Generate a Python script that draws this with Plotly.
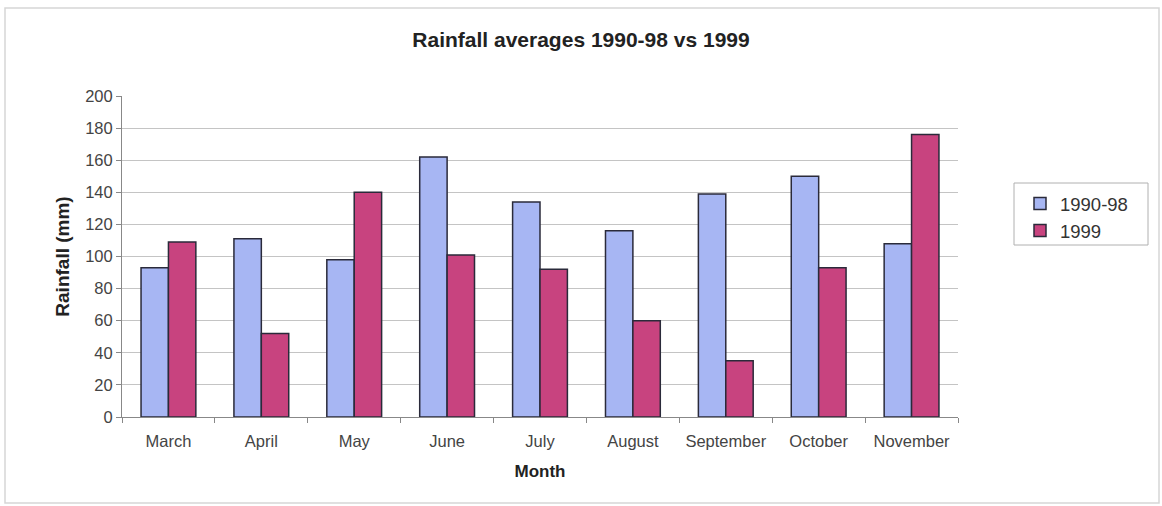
import plotly.graph_objects as go

# Monthly rainfall (mm): long-term average vs a single year
months = ["March", "April", "May", "June", "July", "August",
          "September", "October", "November"]
avg_1990_98 = [93, 111, 98, 162, 134, 116, 139, 150, 108]
year_1999 = [109, 52, 140, 101, 92, 60, 35, 93, 176]
y_ticks = list(range(0, 201, 20))

FONT = "Liberation Sans, Arial, sans-serif"
BLUE = "#a7b6f3"
PINK = "#c8437f"
EDGE = "#2a2a3a"

fig = go.Figure()
fig.add_trace(go.Bar(x=months, y=avg_1990_98, name="1990-98",
                     marker=dict(color=BLUE, line=dict(color=EDGE, width=1.5))))
fig.add_trace(go.Bar(x=months, y=year_1999, name="1999",
                     marker=dict(color=PINK, line=dict(color=EDGE, width=1.5))))

W, H = 1162, 506
L, R, T, B = 122, 204, 96, 89
pw, ph = W - L - R, H - T - B


def px_to_paper(px, py):
    return (px - L) / pw, (H - B - py) / ph


# light frame around the whole chart
fx0, fy0 = px_to_paper(5, 503)
fx1, fy1 = px_to_paper(1159, 8)
# legend box
lx0, ly0 = px_to_paper(1014, 245)
lx1, ly1 = px_to_paper(1148, 183)

fig.update_layout(
    width=W, height=H,
    margin=dict(l=L, r=R, t=T, b=B),
    paper_bgcolor="white", plot_bgcolor="white",
    barmode="group", bargap=0.41, bargroupgap=0,
    font=dict(family=FONT, color="#444444", size=16),
    title=dict(text="<b>Rainfall averages 1990-98 vs 1999</b>",
               x=0.5, xref="container", xanchor="center",
               y=1 - 40 / H, yanchor="middle",
               font=dict(family=FONT, size=21, color="#222222")),
    xaxis=dict(
        type="category", tickson="boundaries", ticks="outside", ticklen=5,
        tickcolor="#888888", showline=True, linecolor="#888888", linewidth=1,
        showgrid=False, tickfont=dict(size=16.5, color="#444444"),
        ticklabelstandoff=9,
        title=dict(text="<b>Month</b>", standoff=16,
                   font=dict(family=FONT, size=17, color="#222222")),
    ),
    yaxis=dict(
        range=[0, 200], tickvals=y_ticks, ticks="outside", ticklen=5,
        tickcolor="#888888", showline=True, linecolor="#888888", linewidth=1,
        showgrid=True, gridcolor="#c4c4c4", gridwidth=1, zeroline=False,
        tickfont=dict(size=16.5, color="#444444"),
        title=dict(text="<b>Rainfall (mm)</b>", standoff=10,
                   font=dict(family=FONT, size=19, color="#222222")),
    ),
    legend=dict(
        x=px_to_paper(1020, 0)[0], y=px_to_paper(0, 185)[1],
        xanchor="left", yanchor="top",
        borderwidth=0, bgcolor="rgba(0,0,0,0)",
        font=dict(family=FONT, size=18.5, color="#333333"),
        itemwidth=30, tracegroupgap=2,
    ),
    shapes=[
        dict(type="rect", xref="paper", yref="paper",
             x0=fx0, y0=fy0, x1=fx1, y1=fy1,
             line=dict(color="#d6d6d6", width=1.5), layer="below"),
        dict(type="rect", xref="paper", yref="paper",
             x0=lx0, y0=ly0, x1=lx1, y1=ly1,
             line=dict(color="#b0b0b0", width=1), layer="below"),
    ],
    showlegend=True,
)

fig.write_html("out.html")
